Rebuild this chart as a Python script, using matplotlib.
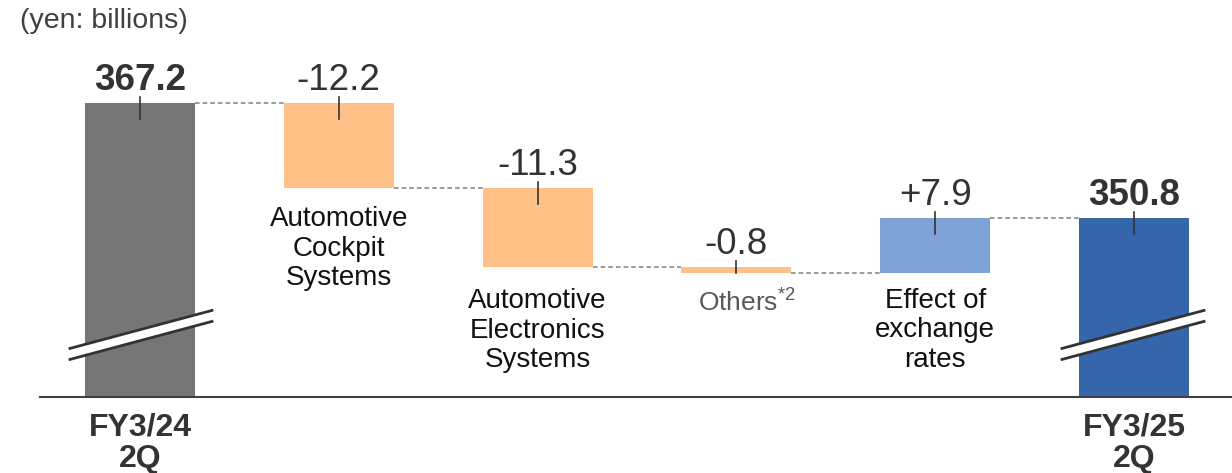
import matplotlib
matplotlib.use("Agg")
import matplotlib.pyplot as plt
import numpy as np

# ---- data ----
categories = ["FY3/24\n2Q", "Automotive\nCockpit\nSystems", "Automotive\nElectronics\nSystems",
              "Others$^{\\mathregular{*2}}$", "Effect of\nexchange\nrates", "FY3/25\n2Q"]
start_total = 367.2
deltas = [-12.2, -11.3, -0.8, 7.9]
end_total = 350.8
value_labels = ["367.2", "-12.2", "-11.3", "-0.8", "+7.9", "350.8"]
unit_label = "(yen: billions)"

# ---- style ----
plt.rcParams['font.family'] = ['Liberation Sans', 'DejaVu Sans']
plt.rcParams['mathtext.fontset'] = 'custom'
plt.rcParams['mathtext.rm'] = 'Liberation Sans'
bar_colors = ["#767676", "#FFC188", "#FFC188", "#FFC188", "#7FA3D6", "#3566AC"]
text_dark = "#333333"

W, H, DPI = 12.32, 4.73, 100
fig = plt.figure(figsize=(W, H), dpi=DPI)
ax = fig.add_axes([0, 0, 1, 1])
ax.set_xlim(-0.704, 5.493)
ax.set_ylim(314.3, 381.9)
ax.axis('off')
floor = 325.1  # axis break baseline

px_y = (381.9 - 314.3) / (H * DPI)   # data units per pixel (y)
px_x = (5.493 + 0.704) / (W * DPI)   # data units per pixel (x)

# waterfall geometry
levels = [start_total]
for d in deltas:
    levels.append(levels[-1] + d)
bottoms, tops = [floor], [start_total]
for i, d in enumerate(deltas):
    lo, hi = sorted([levels[i], levels[i + 1]])
    bottoms.append(lo); tops.append(hi)
bottoms.append(floor); tops.append(end_total)

x = np.arange(len(categories))
width = 0.553
heights = [t - b for t, b in zip(tops, bottoms)]
ax.bar(x, heights, bottom=bottoms, width=width, color=bar_colors, zorder=2)

# connectors
conn = levels[1:] + [end_total]
conn = [start_total] + levels[1:]
for i in range(len(categories) - 1):
    lvl = conn[i]
    ax.plot([x[i] + width / 2, x[i + 1] - width / 2], [lvl, lvl],
            color="#7F7F7F", lw=1.1, ls=(0, (3, 2)), zorder=1)

# small tick marks at top
for i in range(len(categories)):
    t = tops[i]
    lo = max(bottoms[i], t - 16 * px_y)
    ax.plot([x[i], x[i]], [t + 6 * px_y, lo], color="#333333", lw=1.2, zorder=3)

# value labels
for i, lab in enumerate(value_labels):
    bold = i in (0, len(value_labels) - 1)
    ax.annotate(lab, (x[i], tops[i]), xytext=(0, 13), textcoords='offset pixels',
                ha='center', va='baseline', fontsize=26.5,
                fontweight='bold' if bold else 'normal', color=text_dark, zorder=4)

# category labels for steps
label_offsets = {1: (0, -18), 2: (0, -21), 3: (11, -15), 4: (0, -15)}
for i in range(1, len(categories) - 1):
    col = "#595959" if i == 3 else "#111111"
    ax.annotate(categories[i], (x[i], bottoms[i]), xytext=label_offsets[i], textcoords='offset pixels',
                ha='center', va='top', fontsize=20 if i != 3 else 19, color=col,
                linespacing=1.17, multialignment='center')

# total labels below axis
for i in (0, len(categories) - 1):
    ax.annotate(categories[i], (x[i], floor), xytext=(0, -15), textcoords='offset pixels',
                ha='center', va='top', fontsize=23, fontweight='bold', color=text_dark,
                linespacing=1.08, multialignment='center')

# baseline
ax.plot([-0.503, 5.493], [floor, floor], color="#404040", lw=1.5, zorder=3)

# break marks
def break_mark(xc, dx_left, dx_right):
    ya1 = floor + (398 - 349) * px_y
    yb1 = floor + (398 - 311) * px_y
    ya2 = floor + (398 - 360) * px_y
    yb2 = floor + (398 - 322) * px_y
    xl = xc + dx_left * px_x
    xr = xc + dx_right * px_x
    ax.fill([xl, xr, xr, xl], [ya1, yb1, yb2, ya2], color="white", zorder=5, lw=0)
    ax.plot([xl, xr], [ya1, yb1], color="#333333", lw=2, zorder=6)
    ax.plot([xl, xr], [ya2, yb2], color="#333333", lw=2, zorder=6)

break_mark(x[0], -70, 72)
break_mark(x[-1], -72, 70)

fig.text(20 / (W * DPI), 1 - 21 / (H * DPI), unit_label, ha='left', va='center',
         fontsize=20.5, color="#404040")

fig.savefig("out.png", dpi=DPI)
